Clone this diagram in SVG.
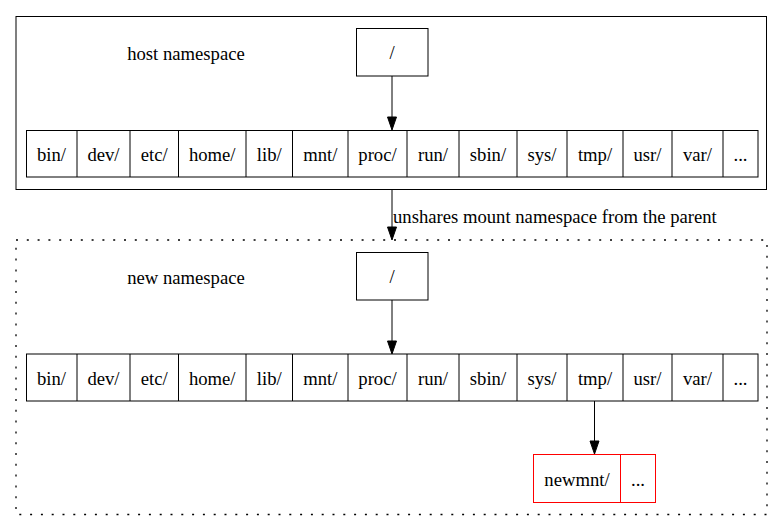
<svg xmlns="http://www.w3.org/2000/svg" width="784" height="531" viewBox="0 0 784 531">
<style>
text{font-family:"Liberation Serif","Times New Roman",serif;font-size:18.67px;fill:#000;text-anchor:middle}
.box{fill:none;stroke:#000;stroke-width:1}
.red{fill:none;stroke:#ff0000;stroke-width:1}
.edge{stroke:#000;stroke-width:1;fill:none}
.head{fill:#000;stroke:#000;stroke-width:1}
.dotted{fill:none;stroke:#000;stroke-width:1.3;stroke-dasharray:2 8.8}
</style>
<rect width="784" height="531" fill="#fff"/>

<g id="cluster_host">
<rect class="box" x="16" y="16.5" width="750.5" height="173"/>
<text x="186" y="60">host namespace</text>
</g>

<g id="host_root">
<rect class="box" x="356.5" y="28.5" width="71.5" height="47.5"/>
<text x="392" y="59">/</text>
</g>

<g id="host_dirs">
<rect class="box" x="26.5" y="130.5" width="731.5" height="46.5"/>
<path class="box" d="M77,130.5V177M130,130.5V177M178.5,130.5V177M246,130.5V177M292.5,130.5V177M348,130.5V177M407,130.5V177M459,130.5V177M517,130.5V177M567,130.5V177M623,130.5V177M672,130.5V177M723,130.5V177"/>
<text x="51.5" y="161">bin/</text>
<text x="103.5" y="161">dev/</text>
<text x="154.25" y="161">etc/</text>
<text x="212.25" y="161">home/</text>
<text x="269.25" y="161">lib/</text>
<text x="320.25" y="161">mnt/</text>
<text x="377.5" y="161">proc/</text>
<text x="433" y="161">run/</text>
<text x="488" y="161">sbin/</text>
<text x="542" y="161">sys/</text>
<text x="595" y="161">tmp/</text>
<text x="647.5" y="161">usr/</text>
<text x="697.5" y="161">var/</text>
<text x="740.5" y="161">...</text>
</g>

<g id="cluster_new">
<rect class="dotted" x="16" y="240" width="751" height="274.5"/>
<text x="186" y="284">new namespace</text>
</g>

<g id="new_root">
<rect class="box" x="356.5" y="252.5" width="71.5" height="47.5"/>
<text x="392" y="283">/</text>
</g>

<g id="new_dirs">
<rect class="box" x="26.5" y="354" width="731.5" height="47"/>
<path class="box" d="M77,354V401M130,354V401M178.5,354V401M246,354V401M292.5,354V401M348,354V401M407,354V401M459,354V401M517,354V401M567,354V401M623,354V401M672,354V401M723,354V401"/>
<text x="51.5" y="385">bin/</text>
<text x="103.5" y="385">dev/</text>
<text x="154.25" y="385">etc/</text>
<text x="212.25" y="385">home/</text>
<text x="269.25" y="385">lib/</text>
<text x="320.25" y="385">mnt/</text>
<text x="377.5" y="385">proc/</text>
<text x="433" y="385">run/</text>
<text x="488" y="385">sbin/</text>
<text x="542" y="385">sys/</text>
<text x="595" y="385">tmp/</text>
<text x="647.5" y="385">usr/</text>
<text x="697.5" y="385">var/</text>
<text x="740.5" y="385">...</text>
</g>

<g id="newmnt">
<rect class="red" x="533.5" y="454.5" width="122" height="48"/>
<path class="red" d="M620.5,454.5V502.5"/>
<text x="577" y="486">newmnt/</text>
<text x="638" y="486">...</text>
</g>

<g id="connectors">
<path class="edge" d="M392,76V117"/>
<polygon class="head" points="387.5,117 396.5,117 392,130"/>
<path class="edge" d="M392,190V227"/>
<polygon class="head" points="387.5,227 396.5,227 392,240"/>
<text x="393" y="223" style="text-anchor:start">unshares mount namespace from the parent</text>
<path class="edge" d="M392,300V341"/>
<polygon class="head" points="387.5,341 396.5,341 392,354"/>
<path class="edge" d="M594.5,401V441"/>
<polygon class="head" points="590,441 599,441 594.5,454"/>
</g>
</svg>
